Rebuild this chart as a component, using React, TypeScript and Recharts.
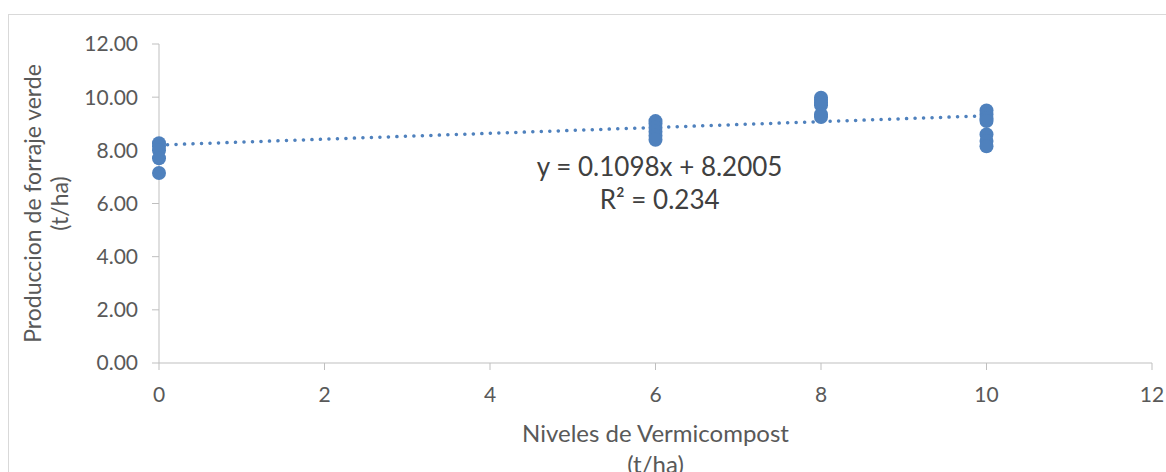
import React from "react";
import { ScatterChart, Scatter, XAxis, YAxis, ReferenceLine, ReferenceDot, Label } from "recharts";

const niveles0 = [8.27, 8.15, 8.0, 7.7, 7.15];
const niveles6 = [9.1, 9.0, 8.85, 8.7, 8.55, 8.4];
const niveles8 = [9.98, 9.9, 9.8, 9.7, 9.35, 9.25];
const niveles10 = [9.5, 9.35, 9.2, 9.1, 8.6, 8.35, 8.15];

const xTicks = [0, 2, 4, 6, 8, 10, 12];
const yTicks = [0, 2, 4, 6, 8, 10, 12];

// trendline ends as shown on the chart (x = 0 and x = 10)
const trendStart = { x: 0, y: 8.2 };
const trendEnd = { x: 10, y: 9.3 };

const points = [
  ...niveles0.map((y) => ({ x: 0, y })),
  ...niveles6.map((y) => ({ x: 6, y })),
  ...niveles8.map((y) => ({ x: 8, y })),
  ...niveles10.map((y) => ({ x: 10, y })),
];

const FONT = "Lato, 'Open Sans', sans-serif";
const GREY = "#595959";
const BLUE = "#4f81bd";

const Dot = (props: any) => <circle cx={props.cx} cy={props.cy} r={7} fill={BLUE} />;

const YTitle = (props: any) => {
  const { viewBox } = props;
  const cy = viewBox.y + viewBox.height / 2;
  return (
    <g fontFamily={FONT} fontSize={23} fill={GREY}>
      <text x={23} y={cy} textAnchor="middle" dominantBaseline="central" transform={`rotate(-90, 23, ${cy})`}>
        Produccion de forraje verde
      </text>
      <text x={50} y={cy} textAnchor="middle" dominantBaseline="central" transform={`rotate(-90, 50, ${cy})`}>
        (t/ha)
      </text>
    </g>
  );
};

const XTitle = (props: any) => {
  const { viewBox } = props;
  const cx = viewBox.x + viewBox.width / 2;
  return (
    <g fontFamily={FONT} fontSize={24} fill={GREY}>
      <text x={cx} y={417} textAnchor="middle" dominantBaseline="central">
        Niveles de Vermicompost
      </text>
      <text x={cx} y={448} textAnchor="middle" dominantBaseline="central">
        (t/ha)
      </text>
    </g>
  );
};

const App: React.FC = () => {
  return (
    <div style={{ position: "fixed", top: 14, left: 8, width: 1158, height: 466, border: "1px solid #d9d9d9", borderRight: "none", boxSizing: "border-box", background: "#fff" }}>
      <ScatterChart width={1157} height={464} margin={{ top: 29, right: 14, bottom: 0, left: 90 }}>
        <XAxis
          type="number"
          dataKey="x"
          domain={[0, 12]}
          ticks={xTicks}
          interval={0}
          stroke="#bfbfbf"
          tickSize={7}
          tickMargin={17}
          height={116}
          tick={{ fill: GREY, fontSize: 21, fontFamily: FONT }}
        >
          <Label content={<XTitle />} />
        </XAxis>
        <YAxis
          type="number"
          dataKey="y"
          domain={[0, 12]}
          ticks={yTicks}
          interval={0}
          stroke="#bfbfbf"
          tickSize={7}
          tickMargin={14}
          width={60}
          tickFormatter={(v: number) => v.toFixed(2)}
          tick={{ fill: GREY, fontSize: 21, fontFamily: FONT }}
        >
          <Label content={<YTitle />} />
        </YAxis>
        <Scatter data={points} shape={<Dot />} isAnimationActive={false} />
        <ReferenceLine
          segment={[trendStart, trendEnd]}
          stroke={BLUE}
          strokeWidth={3.5}
          strokeDasharray="0.1 8.4"
          strokeLinecap="round"
          ifOverflow="visible"
        />
        <ReferenceDot x={6.05} y={7.37} r={0} fill="none" stroke="none" label={{ value: "y = 0.1098x + 8.2005", position: "center", fontSize: 26, fill: "#404040", fontFamily: FONT }} />
        <ReferenceDot x={6.05} y={6.13} r={0} fill="none" stroke="none" label={{ value: "R² = 0.234", position: "center", fontSize: 26, fill: "#404040", fontFamily: FONT }} />
      </ScatterChart>
    </div>
  );
};

export default App;
